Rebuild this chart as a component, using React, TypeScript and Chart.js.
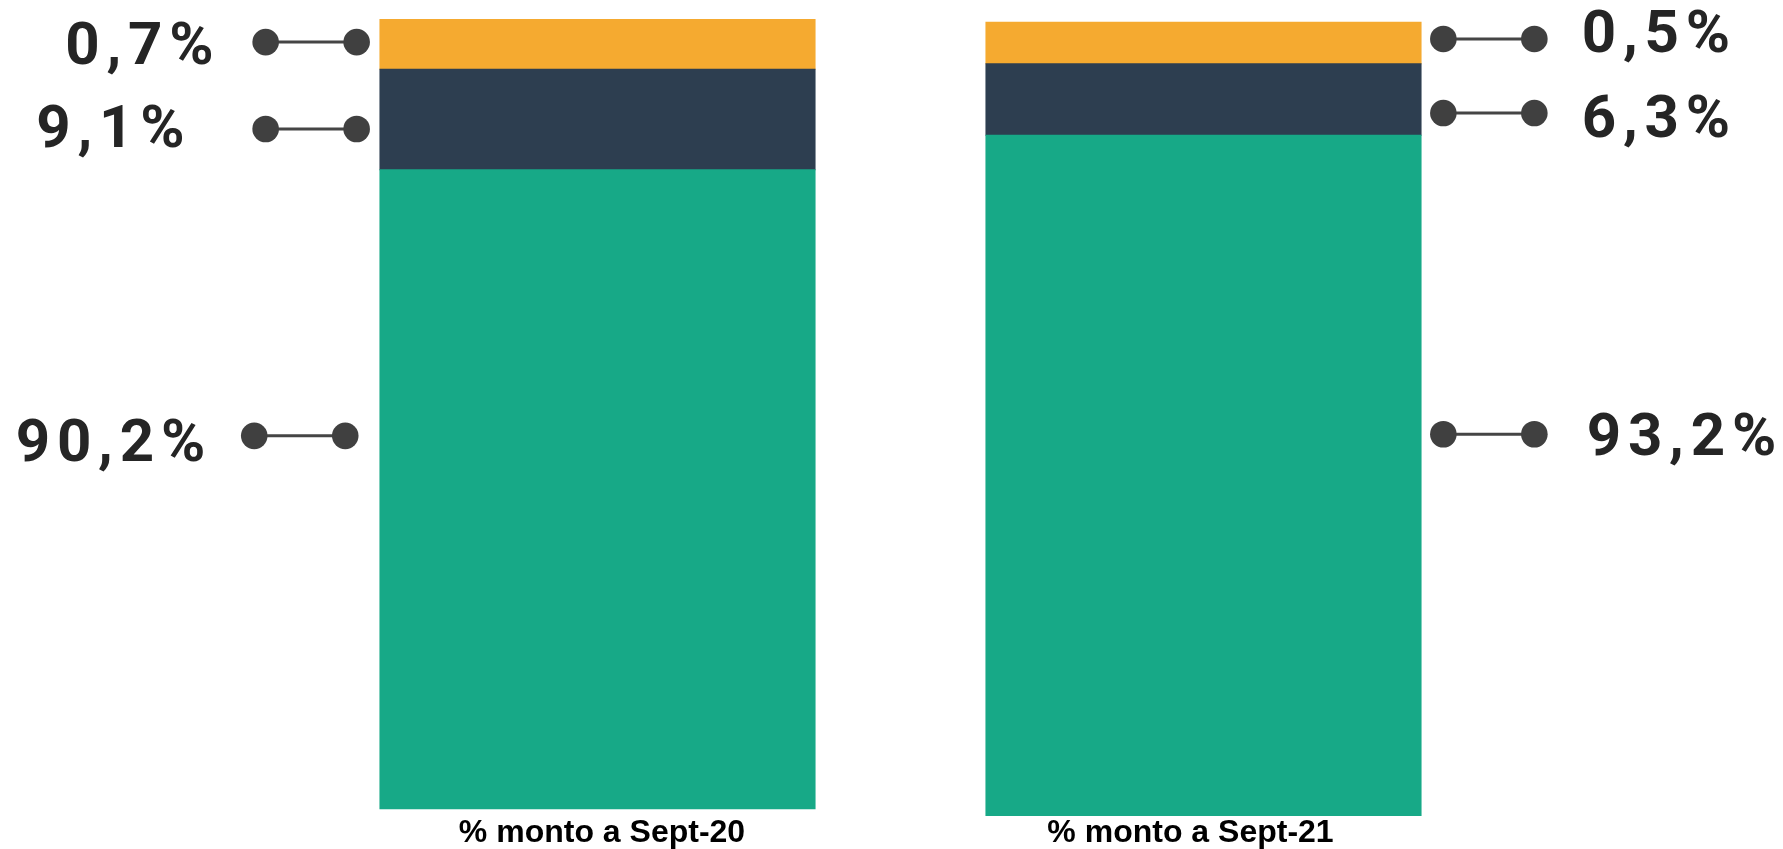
import React, { useEffect, useRef } from "react";
import { Chart, registerables } from "chart.js";

Chart.register(...registerables);

// ---- data ----
const categories = ["% monto a Sept-20", "% monto a Sept-21"];

// Visible extent [low, high] of each coloured segment on a 0–100 axis
const greenSegment: [number, number][] = [[0.9, 81.1], [0, 85.4]];
const darkSegment: [number, number][] = [[81.1, 93.7], [85.4, 94.4]];
const orangeSegment: [number, number][] = [[93.7, 100], [94.4, 99.6]];

// Printed percentages
const orangeLabels = ["0,7%", "0,5%"];
const darkLabels = ["9,1%", "6,3%"];
const greenLabels = ["90,2%", "93,2%"];

// Height (same axis) at which each callout sits
const orangeLabelAt = [97.1, 97.5];
const darkLabelAt = [86.2, 88.2];
const greenLabelAt = [47.7, 47.9];

// ---- styling / layout ----
const COLORS = { green: "#17A987", dark: "#2D3E50", orange: "#F5AA30" };
const DOT_SPAN = 91;
const DOT_R = 13.3;
const LETTER_SPACING = 6.8;
// per bar, in order [orange, dark, green]: inset of near dot from bar edge,
// gap from far dot to text ink, baseline offset from connector
const CALLOUT_LAYOUT = [
  [
    { inset: 23.3, gap: 54, dy: 22.3 },
    { inset: 23.3, gap: 83, dy: 18.3 },
    { inset: 34.7, gap: 51, dy: 25 },
  ],
  [
    { inset: 22.3, gap: 50.3, dy: 13 },
    { inset: 22.3, gap: 50.3, dy: 23.7 },
    { inset: 22.3, gap: 55.3, dy: 20.3 },
  ],
];
const CATEGORY_OFFSET = [4.5, -13];

const calloutPlugin = {
  id: "callouts",
  afterDatasetsDraw(chart: any) {
    const ctx: CanvasRenderingContext2D = chart.ctx;
    const y = chart.scales.y;
    const x = chart.scales.x;
    const segLabels = [orangeLabels, darkLabels, greenLabels];
    const segAt = [orangeLabelAt, darkLabelAt, greenLabelAt];
    categories.forEach((cat, i) => {
      const el = chart.getDatasetMeta(0).data[i];
      const half = el.width / 2;
      const side = i === 0 ? -1 : 1;
      const edge = el.x + side * half;
      for (let s = 0; s < 3; s++) {
        const lay = CALLOUT_LAYOUT[i][s];
        const py = y.getPixelForValue(segAt[s][i]);
        const near = edge + side * lay.inset;
        const far = near + side * DOT_SPAN;
        ctx.save();
        ctx.strokeStyle = "#454545";
        ctx.lineWidth = 3;
        ctx.beginPath();
        ctx.moveTo(near, py);
        ctx.lineTo(far, py);
        ctx.stroke();
        ctx.fillStyle = "#404040";
        for (const cx of [near, far]) {
          ctx.beginPath();
          ctx.arc(cx, py, DOT_R, 0, Math.PI * 2);
          ctx.fill();
        }
        const txt = segLabels[s][i];
        ctx.font = "bold 60px Roboto";
        (ctx as any).letterSpacing = LETTER_SPACING + "px";
        ctx.fillStyle = "#252525";
        ctx.textAlign = "left";
        ctx.textBaseline = "alphabetic";
        const w = ctx.measureText(txt).width - LETTER_SPACING;
        const tx = side < 0 ? far - lay.gap - w + 2 : far + lay.gap - 3;
        ctx.fillText(txt, tx, py + lay.dy);
        ctx.restore();
      }
      // category label under the bar
      ctx.save();
      ctx.font = "bold 32px 'Liberation Sans'";
      ctx.fillStyle = "#000000";
      ctx.textAlign = "center";
      ctx.textBaseline = "alphabetic";
      ctx.fillText(cat, x.getPixelForValue(i) + CATEGORY_OFFSET[i], chart.chartArea.bottom + 25.5);
      ctx.restore();
    });
  },
};

export default function App() {
  const ref = useRef<HTMLCanvasElement | null>(null);
  useEffect(() => {
    if (!ref.current) return;
    const chart = new Chart(ref.current, {
      type: "bar",
      data: {
        labels: categories,
        datasets: [
          { label: "green", data: greenSegment as any, backgroundColor: COLORS.green, borderWidth: 0, inflateAmount: 0.5 },
          { label: "dark", data: darkSegment as any, backgroundColor: COLORS.dark, borderWidth: 0, inflateAmount: 0.5 },
          { label: "orange", data: orangeSegment as any, backgroundColor: COLORS.orange, borderWidth: 0, inflateAmount: 0.5 },
        ],
      },
      options: {
        responsive: false,
        animation: false,
        events: [],
        layout: { padding: { left: 294.5, right: 276.5, top: 19, bottom: 33 } },
        datasets: { bar: { barPercentage: 1, categoryPercentage: 0.718 } },
        scales: {
          x: { display: false, stacked: true },
          y: { display: false, stacked: false, min: 0, max: 100 },
        },
        plugins: { legend: { display: false }, tooltip: { enabled: false } },
      },
      plugins: [calloutPlugin],
    });
    return () => chart.destroy();
  }, []);
  return (
    <div style={{ position: "absolute", left: 0, top: 0, width: 1783, height: 849, background: "#fff" }}>
      <canvas ref={ref} width={1783} height={849} style={{ display: "block" }} />
    </div>
  );
}
